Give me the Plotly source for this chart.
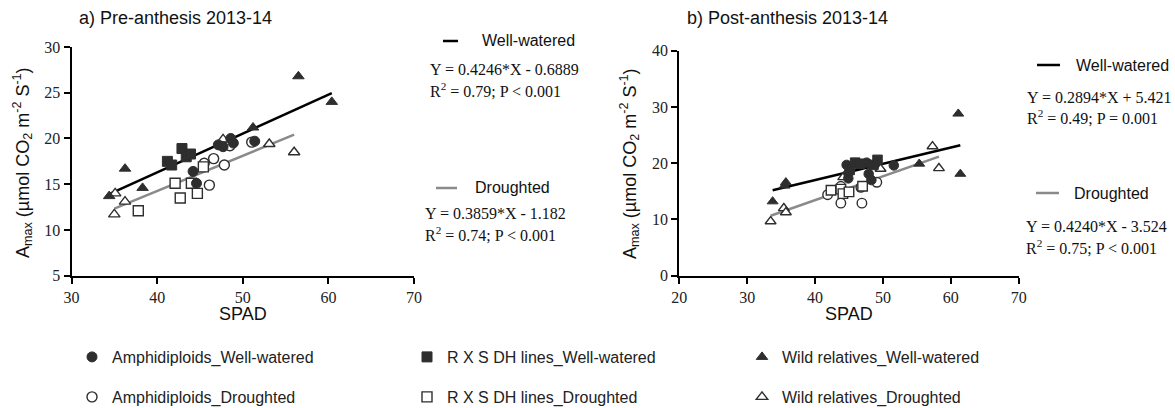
import plotly.graph_objects as go

W, H = 1175, 408
def px(x): return x / W
def py(y): return 1 - y / H

# ---------------- data ----------------
groups = ["Amphidiploids", "R X S DH lines", "Wild relatives"]

# Pre-anthesis (panel a)
pre_amph_ww_x = [44.2, 44.6, 47.15, 47.7, 48.6, 48.9, 51.4]
pre_amph_ww_y = [16.4, 15.1, 19.3, 19.1, 20.0, 19.5, 19.7]
pre_rxs_ww_x = [41.2, 41.7, 42.9, 43.4, 43.9]
pre_rxs_ww_y = [17.5, 17.1, 18.9, 18.0, 18.3]
pre_wild_ww_x = [34.4, 36.25, 38.3, 51.2, 56.5, 60.4]
pre_wild_ww_y = [13.7, 16.7, 14.6, 21.2, 26.8, 24.0]
pre_amph_d_x = [45.5, 46.6, 46.1, 47.85, 48.5, 51.05]
pre_amph_d_y = [17.3, 17.8, 14.9, 17.1, 19.2, 19.6]
pre_rxs_d_x = [37.8, 42.1, 42.7, 44.0, 44.7, 45.4]
pre_rxs_d_y = [12.1, 15.1, 13.5, 15.1, 14.0, 16.9]
pre_wild_d_x = [35.0, 35.1, 36.25, 47.7, 53.1, 56.0]
pre_wild_d_y = [11.7, 14.0, 13.1, 19.9, 19.4, 18.5]

# Post-anthesis (panel b)
post_amph_ww_x = [44.65, 44.9, 44.9, 47.6, 47.9, 48.3, 51.6]
post_amph_ww_y = [19.7, 18.2, 17.3, 20.1, 18.1, 17.0, 19.6]
post_rxs_ww_x = [45.1, 45.9, 46.6, 48.6, 49.2]
post_rxs_ww_y = [18.8, 20.1, 19.9, 19.7, 20.6]
post_wild_ww_x = [33.75, 35.5, 35.7, 55.35, 61.1, 61.4]
post_wild_ww_y = [13.2, 16.0, 16.6, 19.9, 28.8, 18.1]
post_amph_d_x = [41.85, 43.8, 43.8, 46.75, 46.9, 49.1]
post_amph_d_y = [14.4, 12.9, 15.9, 15.7, 12.9, 16.6]
post_rxs_d_x = [42.35, 43.8, 44.1, 45.0, 47.0]
post_rxs_d_y = [15.2, 15.4, 14.6, 14.9, 15.9]
post_wild_d_x = [33.45, 35.4, 35.7, 44.15, 49.65, 57.3, 58.25]
post_wild_d_y = [9.65, 12.0, 11.25, 17.5, 19.0, 23.0, 19.1]

# Regression fits (slope, intercept)
pre_ww_fit = (0.4246, -0.6889)
pre_d_fit = (0.3859, -1.182)
post_ww_fit = (0.2894, 5.421)
post_d_fit = (0.4240, -3.524)

pre_ww_text = ["Y = 0.4246*X - 0.6889", "R<sup>2</sup> = 0.79; P &lt; 0.001"]
pre_d_text = ["Y = 0.3859*X - 1.182", "R<sup>2</sup> = 0.74; P &lt; 0.001"]
post_ww_text = ["Y = 0.2894*X + 5.421", "R<sup>2</sup> = 0.49; P = 0.001"]
post_d_text = ["Y = 0.4240*X - 3.524", "R<sup>2</sup> = 0.75; P &lt; 0.001"]

x_ticks_a = [30, 40, 50, 60, 70]
y_ticks_a = [5, 10, 15, 20, 25, 30]
x_ticks_b = [20, 30, 40, 50, 60, 70]
y_ticks_b = [0, 10, 20, 30, 40]

# ---------------- styling ----------------
DARK = "#2e2e2e"
GRAY = "#8a8a8a"
SERIF = "Liberation Serif"
SANS = "Liberation Sans"

fig = go.Figure()

def fit_line(xs_lists, fit, color, xa, ya):
    allx = [v for xs in xs_lists for v in xs]
    x0, x1 = min(allx), max(allx)
    m, b = fit
    fig.add_trace(go.Scatter(x=[x0, x1], y=[m * x0 + b, m * x1 + b], mode="lines",
                             line=dict(color=color, width=2.5), showlegend=False,
                             xaxis=xa, yaxis=ya, hoverinfo="skip"))

fit_line([pre_amph_ww_x, pre_rxs_ww_x, pre_wild_ww_x], pre_ww_fit, "black", "x", "y")
fit_line([pre_amph_d_x, pre_rxs_d_x, pre_wild_d_x], pre_d_fit, GRAY, "x", "y")
fit_line([post_amph_ww_x, post_rxs_ww_x, post_wild_ww_x], post_ww_fit, "black", "x2", "y2")
fit_line([post_amph_d_x, post_rxs_d_x, post_wild_d_x], post_d_fit, GRAY, "x2", "y2")

symbols = ["circle", "square", "triangle-up"]

def add_pts(x, y, name, sym, filled, xa, ya, show, legend, size=10):
    if filled:
        marker = dict(symbol=sym, size=size, color=DARK, line=dict(color=DARK, width=1))
    else:
        marker = dict(symbol=sym, size=size, color="white", line=dict(color=DARK, width=1.4))
    fig.add_trace(go.Scatter(x=x, y=y, mode="markers", name=name, marker=marker,
                             xaxis=xa, yaxis=ya, showlegend=show, legend=legend,
                             cliponaxis=False))

pre_d = [(pre_amph_d_x, pre_amph_d_y), (pre_rxs_d_x, pre_rxs_d_y), (pre_wild_d_x, pre_wild_d_y)]
pre_ww = [(pre_amph_ww_x, pre_amph_ww_y), (pre_rxs_ww_x, pre_rxs_ww_y), (pre_wild_ww_x, pre_wild_ww_y)]
post_d = [(post_amph_d_x, post_amph_d_y), (post_rxs_d_x, post_rxs_d_y), (post_wild_d_x, post_wild_d_y)]
post_ww = [(post_amph_ww_x, post_amph_ww_y), (post_rxs_ww_x, post_rxs_ww_y), (post_wild_ww_x, post_wild_ww_y)]

for i, g in enumerate(groups):
    add_pts(*pre_d[i], g + "_Droughted", symbols[i], False, "x", "y", True, "legend2")
for i, g in enumerate(groups):
    add_pts(*pre_ww[i], g + "_Well-watered", symbols[i], True, "x", "y", True, "legend")
for i, g in enumerate(groups):
    add_pts(*post_d[i], g + "_Droughted", symbols[i], False, "x2", "y2", False, "legend2", 9.5)
for i, g in enumerate(groups):
    add_pts(*post_ww[i], g + "_Well-watered", symbols[i], True, "x2", "y2", False, "legend", 9.5)

axis_common = dict(showline=True, linecolor="black", linewidth=2, ticks="outside",
                   ticklen=6, tickwidth=2, tickcolor="black", showgrid=False, zeroline=False,
                   tickfont=dict(family=SERIF, size=16, color="#222"), mirror=False)

leg_common = dict(orientation="h", xanchor="left", yanchor="middle",
                  entrywidth=290, entrywidthmode="pixels", traceorder="normal",
                  font=dict(family=SANS, size=16, color="#222"), bgcolor="rgba(0,0,0,0)")

fig.update_layout(
    width=W, height=H, margin=dict(l=0, r=0, t=0, b=0, autoexpand=False),
    paper_bgcolor="white", plot_bgcolor="white",
    xaxis=dict(domain=[px(71.5), px(414)], range=[30, 70], tickvals=x_ticks_a,
               anchor="y", **axis_common),
    yaxis=dict(domain=[py(275.7), py(47)], range=[5, 30], tickvals=y_ticks_a,
               anchor="x", **axis_common),
    xaxis2=dict(domain=[px(679.3), px(1018.7)], range=[20, 70], tickvals=x_ticks_b,
                anchor="y2", **axis_common),
    yaxis2=dict(domain=[py(275.7), py(50.7)], range=[0, 40], tickvals=y_ticks_b,
                anchor="x2", **axis_common),
    legend=dict(x=px(72), y=py(357), **leg_common),
    legend2=dict(x=px(72), y=py(397), **leg_common),
    showlegend=True,
)

ann = []
def text(x, y, s, fam=SANS, size=16, anchor="left", angle=0):
    ann.append(dict(x=px(x), y=py(y), xref="paper", yref="paper", text=s, showarrow=False,
                    xanchor=anchor, yanchor="middle", textangle=angle,
                    font=dict(family=fam, size=size, color="#111")))

# panel titles
text(77, 18, "a) Pre-anthesis 2013-14", size=18)
text(685, 18, "b) Post-anthesis 2013-14", size=18)
# axis titles
ytitle = "A<sub>max</sub> (µmol CO<sub>2</sub> m<sup>-2</sup> S<sup>-1</sup>)"
text(22, 163, ytitle, size=18, anchor="center", angle=-90)
text(629, 163, ytitle, size=18, anchor="center", angle=-90)
text(243, 314, "SPAD", size=18, anchor="center")
text(849, 314, "SPAD", size=18, anchor="center")

# regression legends
shapes = []
def sample(x0, x1, y, color):
    shapes.append(dict(type="line", xref="paper", yref="paper", x0=px(x0), x1=px(x1),
                       y0=py(y), y1=py(y), line=dict(color=color, width=2.5)))

sample(443, 458, 41, "black"); text(480, 41, "Well-watered")
text(428, 69, pre_ww_text[0], fam=SERIF); text(428, 90, pre_ww_text[1], fam=SERIF)
sample(436, 457, 188, GRAY); text(473, 188, "Droughted")
text(423, 213, pre_d_text[0], fam=SERIF); text(423, 234, pre_d_text[1], fam=SERIF)

sample(1037, 1060, 65, "black"); text(1074, 65, "Well-watered")
text(1025, 97, post_ww_text[0], fam=SERIF); text(1025, 117, post_ww_text[1], fam=SERIF)
sample(1036, 1059, 193, GRAY); text(1072, 193, "Droughted")
text(1024, 226, post_d_text[0], fam=SERIF); text(1024, 247, post_d_text[1], fam=SERIF)

fig.update_layout(annotations=ann, shapes=shapes)

fig.write_html("out.html")
